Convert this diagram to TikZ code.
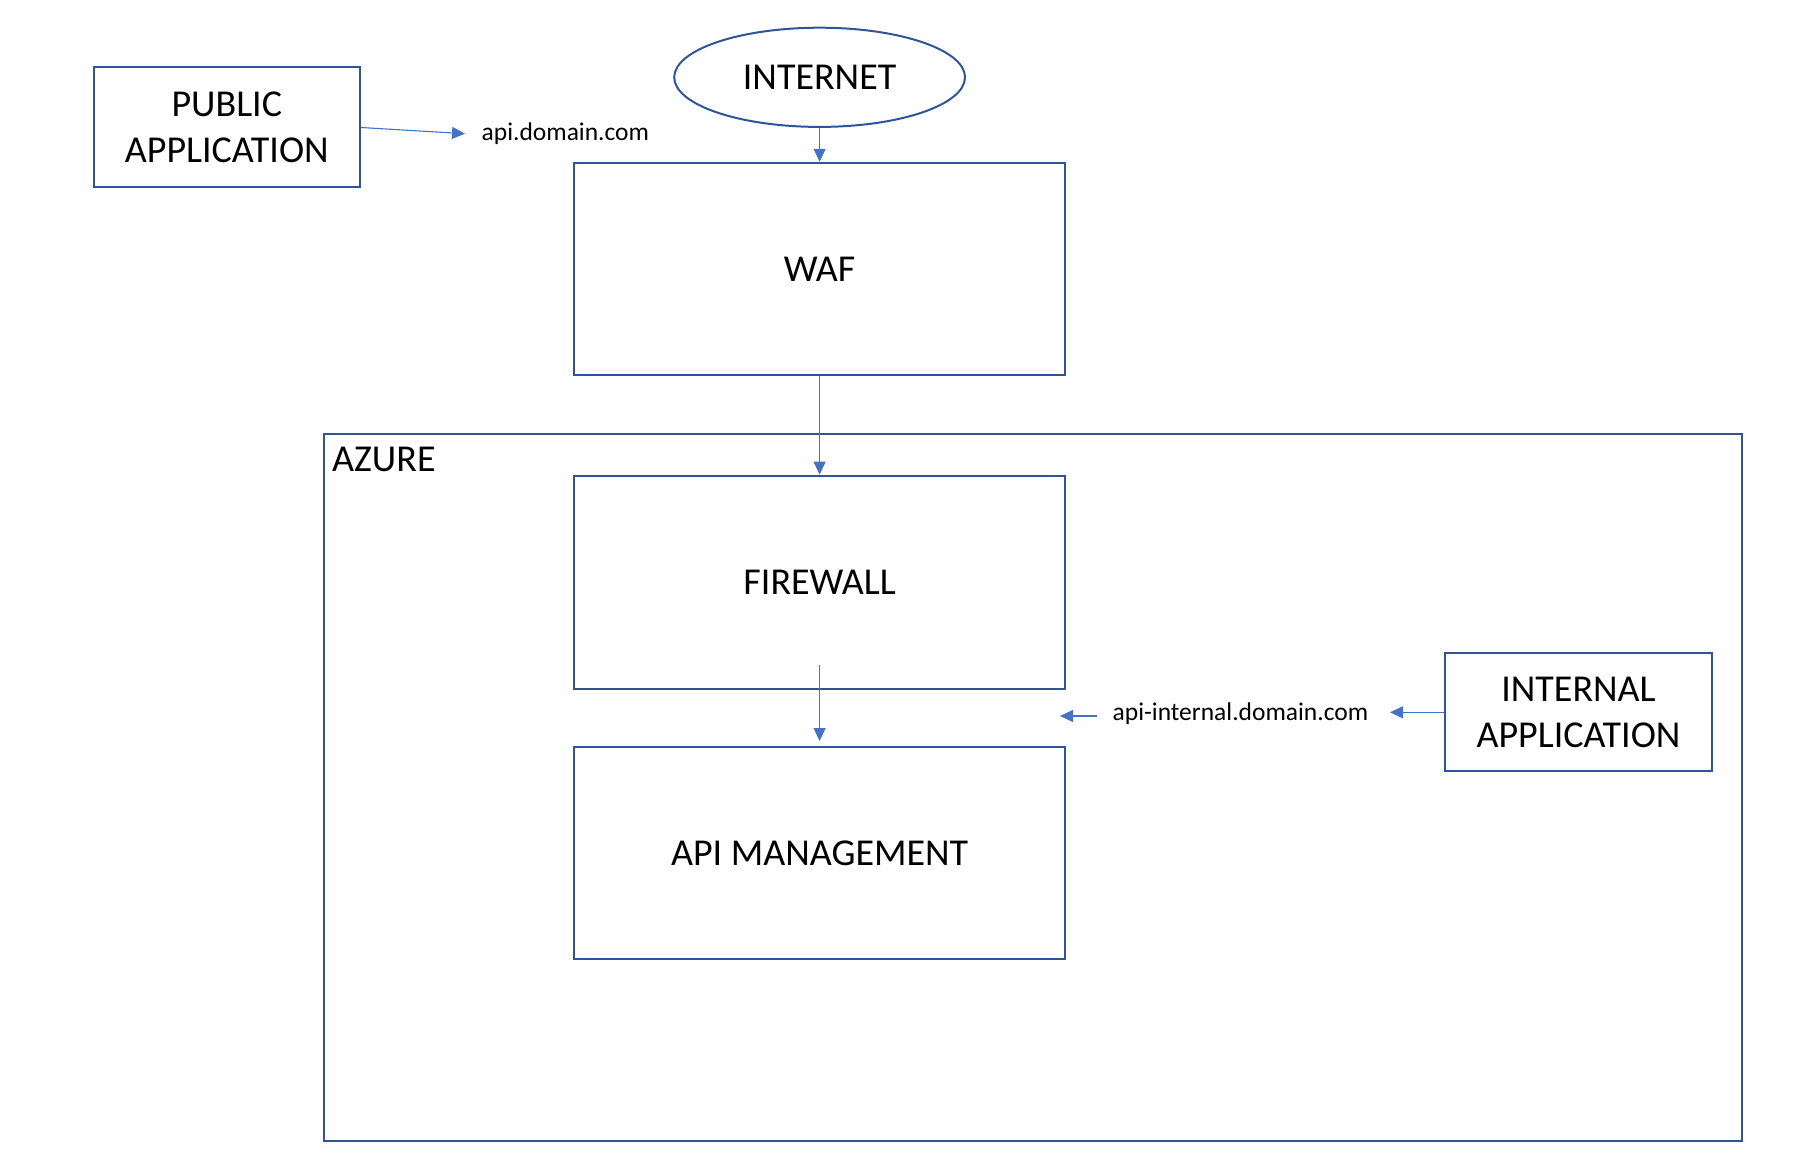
\documentclass[tikz,border=0pt]{standalone}
\usepackage{fontspec}
\setmainfont{Carlito}
\usetikzlibrary{arrows.meta,shapes.geometric}
\definecolor{boxblue}{HTML}{2F5597}
\definecolor{arrblue}{HTML}{4472C4}
\tikzset{
  box/.style={draw=boxblue,line width=2pt,inner sep=0pt,align=center,font=\fontsize{38}{46}\selectfont},
  conn/.style={draw=arrblue,line width=1.1pt,-{Triangle[length=13pt,width=12pt]}},
  small/.style={font=\fontsize{25.5}{30}\selectfont,inner sep=0pt,anchor=west},
}
\begin{document}
\begin{tikzpicture}[x=1pt,y=-1pt]
\path[use as bounding box] (0,0) rectangle (1810,1152);
% Azure container
\draw[boxblue,line width=2pt] (324.4,434) rectangle (1741.8,1140.5);
\node[anchor=west,inner sep=0pt,font=\fontsize{38}{46}\selectfont] (azure) at (332,459) {AZURE};
% nodes
\node[box,minimum width=266.5pt,minimum height=120pt] (pub) at (226.8,127) {PUBLIC\\APPLICATION};
\node[box,ellipse,minimum width=290.8pt,minimum height=99.2pt] (inet) at (819.6,77.3) {INTERNET};
\node[box,minimum width=491.7pt,minimum height=212.4pt] (waf) at (819.6,269) {WAF};
\node[box,minimum width=491.7pt,minimum height=213.5pt] (fw) at (819.6,582.4) {FIREWALL};
\node[box,minimum width=491.7pt,minimum height=212.4pt] (apim) at (819.6,853) {API MANAGEMENT};
\node[box,minimum width=266.6pt,minimum height=117.8pt] (iapp) at (1578.5,712.2) {INTERNAL\\APPLICATION};
% labels
\node[small] (apid) at (481.5,134) {api.domain.com};
\node[small] (apii) at (1112.5,714) {api-internal.domain.com};
% connectors
\coordinate (apitip) at (465,133.7);
\draw[conn] (pub.east |- 0,127.5) -- (apitip);
\draw[conn] (inet.south) -- (waf.north);
\draw[conn] (waf.south) -- (fw.north);
\coordinate (fwstart) at (819.6,665);
\coordinate (apimtop) at (819.6,741);
\draw[conn] (fwstart) -- (apimtop);
\coordinate (iarrow) at (1096.7,716);
\coordinate (itip) at (1060,716);
\draw[conn] (iarrow) -- (itip);
\coordinate (ieTip) at (1390,712.3);
\draw[conn] (iapp.west |- 0,712.3) -- (ieTip);
\end{tikzpicture}
\end{document}
